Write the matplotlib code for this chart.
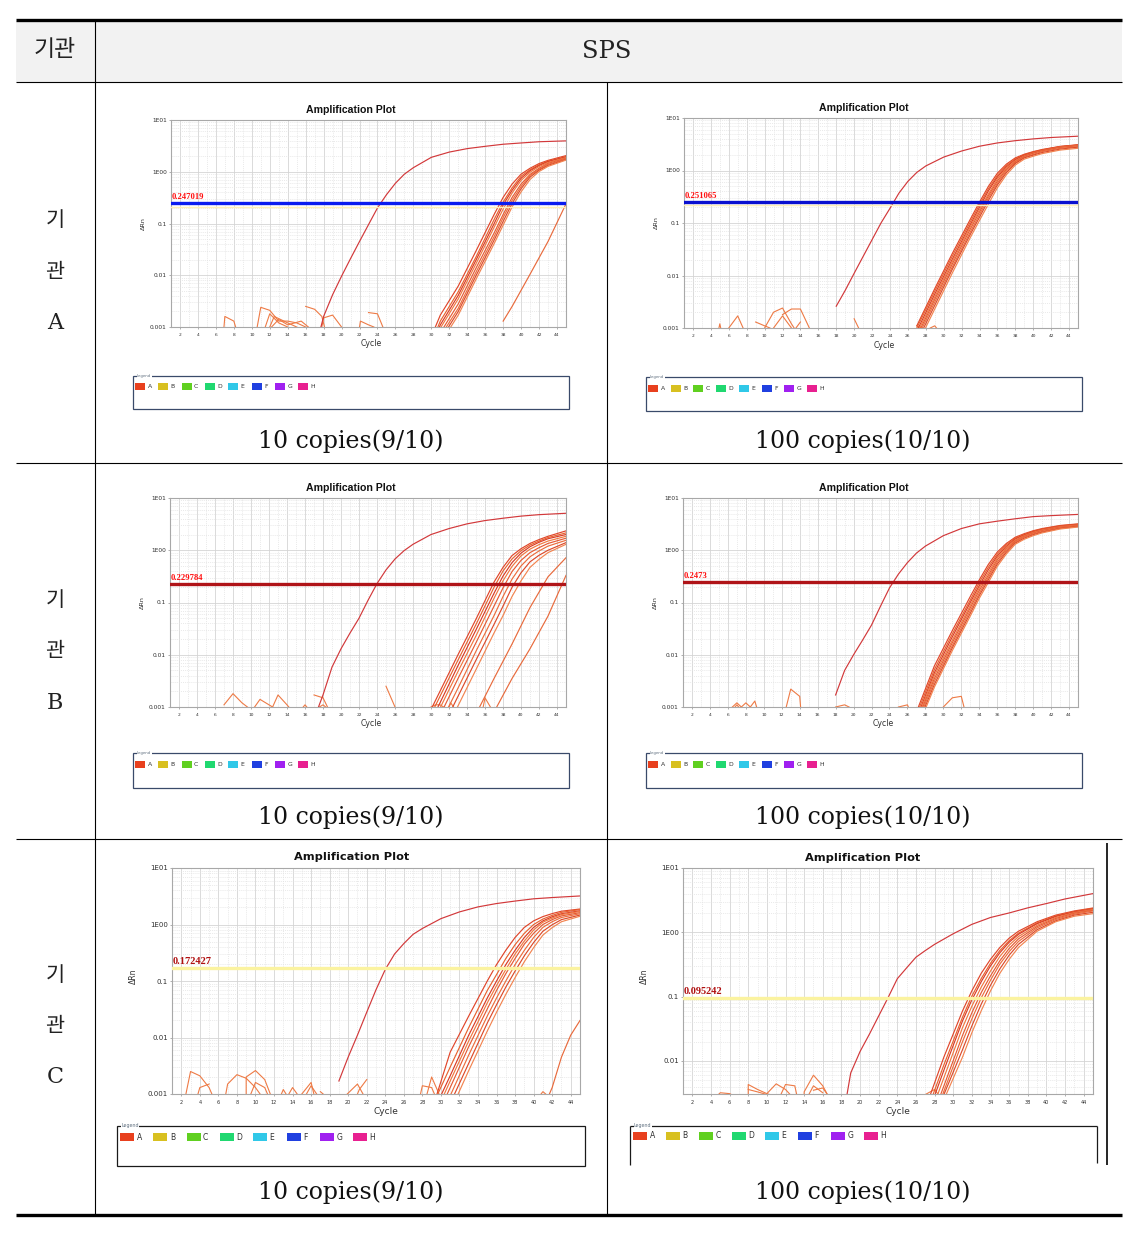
import matplotlib.pyplot as plt
from matplotlib.patches import Rectangle
from matplotlib.lines import Line2D
from matplotlib.ticker import FixedLocator, MultipleLocator, NullFormatter, LogLocator
import matplotlib.transforms as mtrans

# ---------------- data ----------------
X_TICKS = list(range(2, 45, 2))
WELLS = ['A', 'B', 'C', 'D', 'E', 'F', 'G', 'H']
WELL_COLORS = ['#e8401e', '#d8c020', '#60d020', '#20d870', '#30c8e8', '#2040e0', '#a020f0', '#e82090']

ROW_NAMES = ['A', 'B', 'C']
CAPTIONS = ['10 copies(9/10)', '100 copies(10/10)']
THRESHOLDS = [0.247019, 0.251065, 0.229784, 0.2473, 0.172427, 0.095242]
THRESHOLD_LABELS = ['0.247019', '0.251065', '0.229784', '0.2473', '0.172427', '0.095242']

# 기관 A, 10 copies
A_L_PC_X = [17.7, 18, 19, 20, 21, 22, 23, 24, 25, 26, 27, 28, 30, 32, 34, 36, 38, 40, 42, 45]
A_L_PC_Y = [0.001, 0.0016, 0.0042, 0.0096, 0.021, 0.045, 0.095, 0.2, 0.36, 0.6, 0.9, 1.2, 1.9, 2.4, 2.8, 3.1, 3.4, 3.6, 3.8, 3.95]
A_L_X = [29, 31, 33, 35, 37, 38, 39, 40, 41, 42, 43, 45]
A_L_Y = [
    [0.00025, 0.0017, 0.0062, 0.030, 0.15, 0.32, 0.58, 0.9, 1.17, 1.44, 1.66, 2.05],
    [0.00019, 0.0013, 0.0048, 0.023, 0.12, 0.26, 0.49, 0.82, 1.1, 1.37, 1.6, 1.96],
    [0.00016, 0.0011, 0.0041, 0.020, 0.10, 0.23, 0.44, 0.75, 1.05, 1.32, 1.57, 1.93],
    [0.00014, 0.00095, 0.0035, 0.017, 0.085, 0.19, 0.39, 0.68, 0.98, 1.26, 1.51, 1.88],
    [0.00011, 0.00077, 0.0028, 0.014, 0.066, 0.15, 0.32, 0.58, 0.89, 1.17, 1.45, 1.82],
    [0.0001, 0.00066, 0.0023, 0.0117, 0.056, 0.13, 0.28, 0.52, 0.85, 1.12, 1.39, 1.78],
    [0.00008, 0.00056, 0.002, 0.01, 0.048, 0.11, 0.245, 0.47, 0.79, 1.07, 1.33, 1.72],
    [0.00007, 0.00048, 0.0017, 0.0085, 0.041, 0.093, 0.21, 0.41, 0.71, 1.01, 1.27, 1.68],
]
A_L_LATE_X = [[38, 39, 41, 43, 45]]
A_L_LATE_Y = [[0.0013, 0.0025, 0.0105, 0.045, 0.24]]
A_L_NOISE = [
    ([6.9, 7, 8, 8.2], [0.001, 0.0016, 0.0013, 0.001]),
    ([10.6, 11, 12, 13, 14, 15, 16], [0.001, 0.0024, 0.0021, 0.0013, 0.0013, 0.0012, 0.001]),
    ([11.5, 12, 13, 14], [0.001, 0.0018, 0.0012, 0.001]),
    ([12, 12.5, 14, 15], [0.001, 0.0016, 0.0012, 0.001]),
    ([12.2, 13, 14, 15.5, 16.3], [0.001, 0.0014, 0.0011, 0.0013, 0.001]),
    ([16, 17, 17.8, 18.1], [0.0025, 0.0022, 0.0016, 0.001]),
    ([17.8, 18, 19, 20], [0.001, 0.0015, 0.0017, 0.001]),
    ([22, 22.1, 23, 23.6], [0.001, 0.0013, 0.0011, 0.001]),
    ([23, 24, 24.6], [0.0019, 0.0018, 0.001]),
]

# 기관 A, 100 copies
A_R_PC_X = [18, 19, 20, 21, 22, 23, 24, 25, 26, 27, 28, 30, 32, 34, 36, 38, 40, 42, 45]
A_R_PC_Y = [0.0026, 0.0052, 0.011, 0.023, 0.048, 0.1, 0.19, 0.37, 0.62, 0.92, 1.22, 1.8, 2.35, 2.9, 3.35, 3.7, 4.0, 4.25, 4.5]
A_R_X = [27, 29, 31, 33, 34, 35, 36, 37, 38, 39, 40, 41, 43, 45]
A_R_Y = [
    [0.0011, 0.0056, 0.027, 0.12, 0.25, 0.5, 0.89, 1.32, 1.74, 2.04, 2.29, 2.51, 2.88, 3.09],
    [0.001, 0.005, 0.024, 0.107, 0.224, 0.45, 0.81, 1.24, 1.67, 2.0, 2.25, 2.48, 2.85, 3.07],
    [0.00087, 0.0044, 0.021, 0.095, 0.2, 0.41, 0.75, 1.17, 1.6, 1.95, 2.21, 2.44, 2.82, 3.05],
    [0.00078, 0.0039, 0.019, 0.087, 0.18, 0.36, 0.69, 1.11, 1.53, 1.9, 2.17, 2.4, 2.79, 3.0],
    [0.00069, 0.0035, 0.017, 0.078, 0.162, 0.33, 0.63, 1.05, 1.47, 1.86, 2.13, 2.38, 2.75, 2.95],
    [0.00062, 0.0031, 0.015, 0.069, 0.145, 0.3, 0.575, 0.98, 1.41, 1.8, 2.03, 2.3, 2.65, 2.85],
    [0.00054, 0.0027, 0.0135, 0.062, 0.129, 0.27, 0.53, 0.91, 1.36, 1.74, 1.96, 2.2, 2.55, 2.78],
    [0.00046, 0.0023, 0.0115, 0.054, 0.112, 0.23, 0.47, 0.83, 1.27, 1.65, 1.87, 2.1, 2.45, 2.65],
]
A_R_NOISE = [
    ([4.9, 5, 5.1], [0.001, 0.0012, 0.001]),
    ([6, 7, 7.6], [0.001, 0.0017, 0.001]),
    ([9, 10, 10.6], [0.0013, 0.0011, 0.001]),
    ([10, 11, 12, 13, 13.3], [0.001, 0.002, 0.0024, 0.0012, 0.001]),
    ([11, 12, 13], [0.001, 0.0017, 0.001]),
    ([12, 13, 14, 15], [0.0018, 0.0023, 0.0023, 0.001]),
    ([13.5, 14], [0.001, 0.0013]),
    ([20, 20.5], [0.0015, 0.001]),
    ([27, 27.5], [0.0011, 0.001]),
    ([28.5, 29, 29.2], [0.001, 0.0011, 0.001]),
]

# 기관 B, 10 copies
B_L_PC_X = [17.5, 18, 19, 20, 21, 22, 23, 24, 25, 26, 27, 28, 30, 32, 34, 36, 38, 40, 42, 45]
B_L_PC_Y = [0.001, 0.0017, 0.0058, 0.013, 0.026, 0.05, 0.11, 0.23, 0.42, 0.68, 0.98, 1.3, 2.0, 2.6, 3.2, 3.7, 4.1, 4.5, 4.8, 5.1]
B_L_X = [29, 31, 33, 35, 37, 38, 39, 40, 41, 42, 43, 45]
B_L_Y = [
    [0.0004, 0.002, 0.01, 0.048, 0.245, 0.47, 0.79, 1.07, 1.35, 1.6, 1.85, 2.35],
    [0.00032, 0.0016, 0.0079, 0.038, 0.195, 0.4, 0.68, 0.98, 1.26, 1.5, 1.75, 2.15],
    [0.00025, 0.0012, 0.0062, 0.030, 0.15, 0.32, 0.58, 0.88, 1.17, 1.42, 1.66, 2.0],
    [0.00019, 0.00095, 0.0048, 0.023, 0.12, 0.26, 0.49, 0.78, 1.05, 1.28, 1.5, 1.85],
    [0.00014, 0.00069, 0.0035, 0.017, 0.085, 0.19, 0.39, 0.64, 0.9, 1.12, 1.35, 1.7],
    [0.0001, 0.00047, 0.0023, 0.0117, 0.056, 0.13, 0.28, 0.5, 0.75, 0.97, 1.2, 1.55],
    [0.00006, 0.00032, 0.0016, 0.0079, 0.038, 0.085, 0.195, 0.37, 0.6, 0.8, 1.0, 1.4],
    [0.00004, 0.00021, 0.00105, 0.0052, 0.026, 0.056, 0.13, 0.26, 0.47, 0.67, 0.9, 1.3],
]
B_L_LATE_X = [[35.4, 37, 39, 41, 43, 45], [37.3, 39, 41, 43, 45]]
B_L_LATE_Y = [[0.001, 0.0035, 0.016, 0.08, 0.31, 0.72], [0.001, 0.0035, 0.013, 0.055, 0.33]]
B_L_NOISE = [
    ([7, 8, 9, 9.6], [0.0011, 0.0018, 0.0012, 0.001]),
    ([10.4, 11, 12, 12.4], [0.001, 0.0014, 0.0011, 0.001]),
    ([12.4, 13, 14, 14.2], [0.001, 0.0017, 0.0011, 0.001]),
    ([15.8, 16, 16.2], [0.001, 0.0011, 0.001]),
    ([17, 18, 18.5], [0.0017, 0.0015, 0.001]),
    ([17.6, 18, 18.3], [0.001, 0.0011, 0.001]),
    ([25, 26], [0.0025, 0.001]),
    ([30, 30.5, 31, 31.4], [0.001, 0.0011, 0.0011, 0.001]),
    ([32, 32.2, 32.5], [0.001, 0.0012, 0.001]),
    ([35.8, 36, 36.6], [0.001, 0.0015, 0.001]),
]

# 기관 B, 100 copies
B_R_PC_X = [18, 19, 20, 21, 22, 23, 24, 25, 26, 27, 28, 30, 32, 34, 36, 38, 40, 42, 45]
B_R_PC_Y = [0.0017, 0.005, 0.01, 0.019, 0.037, 0.085, 0.19, 0.35, 0.58, 0.88, 1.2, 1.9, 2.6, 3.2, 3.6, 4.0, 4.4, 4.6, 4.85]
B_R_X = [27, 29, 31, 33, 34, 35, 36, 37, 38, 39, 40, 41, 43, 45]
B_R_Y = [
    [0.0008, 0.0061, 0.029, 0.13, 0.27, 0.53, 0.92, 1.34, 1.77, 2.07, 2.36, 2.6, 2.98, 3.2],
    [0.0007, 0.0052, 0.025, 0.112, 0.24, 0.47, 0.84, 1.26, 1.7, 2.0, 2.3, 2.55, 2.93, 3.15],
    [0.0006, 0.0045, 0.022, 0.1, 0.21, 0.42, 0.77, 1.18, 1.63, 1.95, 2.25, 2.5, 2.88, 3.1],
    [0.00055, 0.004, 0.019, 0.088, 0.19, 0.37, 0.71, 1.12, 1.57, 1.9, 2.2, 2.45, 2.83, 3.05],
    [0.0005, 0.0035, 0.017, 0.079, 0.17, 0.33, 0.65, 1.05, 1.5, 1.84, 2.13, 2.38, 2.77, 2.98],
    [0.00045, 0.0031, 0.015, 0.07, 0.15, 0.3, 0.59, 0.98, 1.44, 1.78, 2.06, 2.3, 2.7, 2.92],
    [0.0004, 0.0027, 0.0135, 0.062, 0.135, 0.27, 0.54, 0.91, 1.37, 1.7, 1.98, 2.22, 2.62, 2.85],
    [0.00035, 0.0024, 0.012, 0.055, 0.12, 0.24, 0.49, 0.84, 1.3, 1.62, 1.9, 2.15, 2.55, 2.78],
]
B_R_NOISE = [
    ([6.5, 7, 7.5], [0.001, 0.0012, 0.001]),
    ([6.8, 7, 7.2], [0.001, 0.0011, 0.001]),
    ([7.5, 8, 8.5, 9, 9.2], [0.001, 0.0012, 0.001, 0.0013, 0.001]),
    ([12.5, 13, 14, 14.1], [0.001, 0.0022, 0.0016, 0.001]),
    ([18, 19, 19.5], [0.001, 0.0011, 0.001]),
    ([25, 26, 26.1], [0.001, 0.0011, 0.001]),
    ([30, 31, 32, 32.3], [0.001, 0.0015, 0.0016, 0.001]),
]

# 기관 C, 10 copies
C_L_PC_X = [19, 20, 21, 22, 23, 24, 25, 26, 27, 28, 30, 32, 34, 36, 38, 40, 42, 45]
C_L_PC_Y = [0.0017, 0.0045, 0.011, 0.028, 0.07, 0.16, 0.3, 0.46, 0.67, 0.85, 1.27, 1.67, 2.05, 2.35, 2.6, 2.85, 3.0, 3.2]
C_L_X = [29, 31, 33, 35, 36, 37, 38, 39, 40, 41, 42, 43, 45]
C_L_Y = [
    [0.0005, 0.0055, 0.024, 0.10, 0.195, 0.35, 0.59, 0.89, 1.16, 1.38, 1.56, 1.72, 1.88],
    [0.00058, 0.003, 0.015, 0.068, 0.13, 0.25, 0.44, 0.70, 1.0, 1.25, 1.45, 1.64, 1.84],
    [0.00042, 0.0021, 0.011, 0.05, 0.1, 0.195, 0.35, 0.59, 0.89, 1.16, 1.37, 1.55, 1.75],
    [0.00032, 0.0017, 0.0087, 0.041, 0.083, 0.16, 0.3, 0.51, 0.8, 1.1, 1.3, 1.5, 1.7],
    [0.00025, 0.0013, 0.0069, 0.032, 0.068, 0.135, 0.25, 0.45, 0.7, 1.0, 1.22, 1.42, 1.62],
    [0.00018, 0.00093, 0.0049, 0.024, 0.05, 0.10, 0.195, 0.35, 0.59, 0.89, 1.12, 1.33, 1.55],
    [0.00013, 0.00068, 0.0035, 0.018, 0.038, 0.078, 0.15, 0.28, 0.48, 0.76, 0.99, 1.22, 1.47],
    [0.0001, 0.00049, 0.0026, 0.013, 0.028, 0.058, 0.115, 0.22, 0.39, 0.65, 0.88, 1.12, 1.4],
]
C_L_LATE_X = [[41.7, 42, 43, 44, 45]]
C_L_LATE_Y = [[0.001, 0.0013, 0.0045, 0.011, 0.02]]
C_L_NOISE = [
    ([2.5, 3, 4, 5, 5.3], [0.001, 0.0025, 0.0021, 0.0013, 0.001]),
    ([3.8, 4, 5], [0.001, 0.0013, 0.0015]),
    ([6.8, 7, 8, 9, 10, 10.5], [0.001, 0.0015, 0.0022, 0.0019, 0.0013, 0.001]),
    ([9, 9, 10, 11, 11.6], [0.001, 0.002, 0.0026, 0.0018, 0.001]),
    ([9.5, 10, 11, 11.3], [0.001, 0.0016, 0.0013, 0.001]),
    ([12.8, 13, 13.3], [0.001, 0.0012, 0.001]),
    ([13.6, 14, 14.5], [0.001, 0.0013, 0.001]),
    ([15, 16, 16.3], [0.001, 0.0016, 0.001]),
    ([15.5, 16, 16.6], [0.001, 0.0014, 0.001]),
    ([17, 17.3], [0.0011, 0.001]),
    ([19.9, 21, 21.6], [0.001, 0.0015, 0.001]),
    ([21, 21.2, 22], [0.001, 0.0012, 0.0018]),
    ([27.8, 28, 29, 29.3], [0.001, 0.0014, 0.0013, 0.001]),
    ([28.5, 29, 29.8], [0.001, 0.002, 0.001]),
    ([40.8, 41, 41.3], [0.001, 0.0011, 0.001]),
]

# 기관 C, 100 copies
C_R_PC_X = [18.6, 19, 20, 21, 22, 23, 24, 25, 26, 27, 28, 30, 32, 34, 36, 38, 40, 42, 45]
C_R_PC_Y = [0.003, 0.0065, 0.014, 0.026, 0.05, 0.096, 0.19, 0.28, 0.41, 0.52, 0.65, 0.95, 1.33, 1.7, 2.0, 2.4, 2.8, 3.3, 4.0]
C_R_X = [27, 29, 31, 32, 33, 34, 35, 36, 37, 39, 41, 43, 45]
C_R_Y = [
    [0.0018, 0.0115, 0.06, 0.123, 0.23, 0.38, 0.58, 0.81, 1.04, 1.46, 1.85, 2.15, 2.39],
    [0.0014, 0.0087, 0.048, 0.102, 0.19, 0.33, 0.52, 0.74, 0.97, 1.4, 1.8, 2.1, 2.35],
    [0.00115, 0.0072, 0.042, 0.089, 0.17, 0.3, 0.48, 0.7, 0.93, 1.36, 1.76, 2.07, 2.3],
    [0.0009, 0.0055, 0.033, 0.071, 0.14, 0.25, 0.42, 0.63, 0.86, 1.29, 1.7, 2.03, 2.26],
    [0.00068, 0.0041, 0.025, 0.056, 0.115, 0.21, 0.36, 0.56, 0.79, 1.23, 1.64, 1.98, 2.2],
    [0.00052, 0.0034, 0.02, 0.045, 0.095, 0.18, 0.32, 0.5, 0.72, 1.17, 1.58, 1.92, 2.15],
    [0.0004, 0.003, 0.015, 0.035, 0.076, 0.15, 0.27, 0.44, 0.65, 1.1, 1.51, 1.85, 2.05],
    [0.00032, 0.0025, 0.0115, 0.0275, 0.06, 0.123, 0.23, 0.38, 0.58, 1.04, 1.46, 1.78, 1.95],
]
C_R_NOISE = [
    ([4.8, 5, 6, 6.2], [0.003, 0.0032, 0.0031, 0.003]),
    ([8, 8, 9, 10, 10.3], [0.003, 0.0043, 0.0036, 0.0031, 0.003]),
    ([8, 9, 10], [0.0036, 0.0033, 0.003]),
    ([10, 11, 12, 12.5], [0.0031, 0.0044, 0.0036, 0.003]),
    ([11.5, 12, 13, 13.2], [0.003, 0.0043, 0.0041, 0.003]),
    ([14, 14, 15, 16, 16.5], [0.003, 0.0033, 0.006, 0.0041, 0.003]),
    ([15, 16, 16.5], [0.0035, 0.0038, 0.003]),
    ([14.5, 15, 16], [0.003, 0.0041, 0.0032]),
    ([27, 28, 28.4], [0.003, 0.0036, 0.003]),
]

# ---------------- layout ----------------
W, H = 1140, 1246
fig = plt.figure(figsize=(W / 100, H / 100), dpi=100)
fig.patch.set_facecolor('white')

CURVE_COLORS = ['#e0452a', '#e8622e', '#d93b26', '#f07840', '#e55a34', '#ec6d3c', '#dc4a2a', '#f28450']
PC_COLOR = '#d2383a'
NOISE_COLOR = '#ee7a45'
KR = ['Noto Sans CJK KR', 'DejaVu Sans']


def fline(x0, y0, x1, y1, lw=0.8, color='black'):
    fig.add_artist(Line2D([x0 / W, x1 / W], [1 - y0 / H, 1 - y1 / H], lw=lw, color=color,
                          solid_capstyle='butt'))


def frect(x0, y0, x1, y1, **kw):
    fig.add_artist(Rectangle((x0 / W, 1 - y1 / H), (x1 - x0) / W, (y1 - y0) / H,
                             transform=fig.transFigure, **kw))


def ftext(x, y, s, **kw):
    kw.setdefault('ha', 'center')
    kw.setdefault('va', 'center')
    fig.text(x / W, 1 - y / H, s, **kw)


# table
frect(16, 21, 1122, 82, facecolor='#f2f2f2', edgecolor='none')
fline(16, 20, 1122, 20, lw=2.4)
fline(16, 82, 1122, 82)
fline(16, 463, 1122, 463)
fline(16, 839, 1122, 839)
fline(16, 1215, 1122, 1215, lw=2.4)
fline(95, 20, 95, 1215)
fline(607, 82, 607, 1215)
fline(1107, 843, 1107, 1165, lw=1.2)

ftext(55, 50, '기관', family=KR, fontsize=16.5, color='#222222')
ftext(607, 51, 'SPS', family='DejaVu Serif', fontsize=17.5, color='#222222')

ROW_Y = [(220, 272, 323), (600, 651, 703), (975, 1026, 1077)]
for name, (y1, y2, y3) in zip(ROW_NAMES, ROW_Y):
    ftext(55, y1, '기', family=KR, fontsize=15, color='#222222')
    ftext(55, y2, '관', family=KR, fontsize=15, color='#222222')
    ftext(55, y3, name, family='DejaVu Serif', fontsize=16, color='#222222')

CAPTION_Y = [441, 817, 1192]
for cy in CAPTION_Y:
    ftext(351, cy, CAPTIONS[0], family='DejaVu Serif', fontsize=17, color='#111111')
    ftext(863, cy, CAPTIONS[1], family='DejaVu Serif', fontsize=17, color='#111111')

PANELS = [
    dict(box=(171, 120, 566, 327), title=(351, 110), leg=(133, 376, 569, 409), leg_item=(135, 386, 23.3, 10, 7),
         pc=(A_L_PC_X, A_L_PC_Y), gx=A_L_X, gy=A_L_Y, late=(A_L_LATE_X, A_L_LATE_Y), noise=A_L_NOISE,
         thr_color='#0a1cf0', lab_color='#ff1010', ymin=0.001, big=False, ghost=True),
    dict(box=(684, 118, 1078, 328), title=(864, 108), leg=(646, 377, 1082, 411), leg_item=(648, 388, 22.7, 10, 7),
         pc=(A_R_PC_X, A_R_PC_Y), gx=A_R_X, gy=A_R_Y, late=([], []), noise=A_R_NOISE,
         thr_color='#0a10d0', lab_color='#ff1010', ymin=0.001, big=False, ghost=True),
    dict(box=(170, 498, 566, 707), title=(351, 488), leg=(133, 753, 569, 788), leg_item=(135, 764, 23.3, 10, 7),
         pc=(B_L_PC_X, B_L_PC_Y), gx=B_L_X, gy=B_L_Y, late=(B_L_LATE_X, B_L_LATE_Y), noise=B_L_NOISE,
         thr_color='#b01418', lab_color='#ff1010', ymin=0.001, big=False, ghost=False),
    dict(box=(683, 498, 1078, 707), title=(864, 488), leg=(646, 753, 1082, 788), leg_item=(648, 764, 22.7, 10, 7),
         pc=(B_R_PC_X, B_R_PC_Y), gx=B_R_X, gy=B_R_Y, late=([], []), noise=B_R_NOISE,
         thr_color='#b01418', lab_color='#ff1010', ymin=0.001, big=False, ghost=False),
    dict(box=(172, 868, 580, 1094), title=(352, 857), leg=(117, 1126, 585, 1166), leg_item=(120, 1137, 33.3, 14, 8),
         pc=(C_L_PC_X, C_L_PC_Y), gx=C_L_X, gy=C_L_Y, late=(C_L_LATE_X, C_L_LATE_Y), noise=C_L_NOISE,
         thr_color='#fbf3a0', lab_color='#b01010', ymin=0.001, big=True, ghost=False),
    dict(box=(683, 868, 1093, 1094), title=(863, 858), leg=(630, 1126, 1097, None), leg_item=(633, 1136, 33, 14, 8),
         pc=(C_R_PC_X, C_R_PC_Y), gx=C_R_X, gy=C_R_Y, late=([], []), noise=C_R_NOISE,
         thr_color='#fbf3a0', lab_color='#b01010', ymin=0.00306, big=True, ghost=False),
]

for i, p in enumerate(PANELS):
    l, t, r, b = p['box']
    big = p['big']
    ax = fig.add_axes([l / W, 1 - b / H, (r - l) / W, (b - t) / H])
    ax.set_yscale('log')
    ax.set_xlim(1, 45)
    ax.set_ylim(p['ymin'], 10)

    ax.xaxis.set_major_locator(FixedLocator(X_TICKS))
    ax.xaxis.set_minor_locator(MultipleLocator(1))
    ax.set_xticklabels([str(v) for v in X_TICKS])
    if p['ymin'] < 0.002:
        yt = [0.001, 0.01, 0.1, 1, 10]
        yl = ['0.001', '0.01', '0.1', '1E00', '1E01']
    else:
        yt = [0.01, 0.1, 1, 10]
        yl = ['0.01', '0.1', '1E00', '1E01']
    ax.yaxis.set_major_locator(FixedLocator(yt))
    ax.set_yticklabels(yl)
    ax.yaxis.set_minor_locator(LogLocator(base=10, subs=range(2, 10), numticks=20))
    ax.yaxis.set_minor_formatter(NullFormatter())

    ax.grid(True, which='major', color='#d4d4d4', lw=0.6)
    ax.grid(True, which='minor', color='#e2e2e2', lw=0.5, ls=(0, (1.5, 1.5)))
    ax.set_axisbelow(True)
    for s in ax.spines.values():
        s.set_color('#a8a8a8')
        s.set_linewidth(0.8)
    ax.tick_params(axis='x', which='major', labelsize=3.6 if big else 3.2, length=1.5, width=0.5,
                   colors='#909090', labelcolor='#303030', pad=2.5)
    ax.tick_params(axis='y', which='major', labelsize=5 if big else 4.2, length=1.5, width=0.5,
                   colors='#909090', labelcolor='#303030', pad=1.5)
    ax.tick_params(which='minor', length=0)

    # noise near the baseline
    for nx, ny in p['noise']:
        ax.plot(nx, ny, color=NOISE_COLOR, lw=0.8)
    # sample wells
    for k, ys in enumerate(p['gy']):
        ax.plot(p['gx'], ys, color=CURVE_COLORS[k % len(CURVE_COLORS)], lw=0.85)
    lx, ly = p['late']
    for k in range(len(lx)):
        ax.plot(lx[k], ly[k], color='#e86a3c', lw=0.85)
    # positive control
    ax.plot(p['pc'][0], p['pc'][1], color=PC_COLOR, lw=0.85)

    thr = THRESHOLDS[i]
    if p['ghost']:
        ax.axhline(thr * 0.86, color='#fff0b8', lw=1.0, zorder=4)
    ax.axhline(thr, color=p['thr_color'], lw=2.4, zorder=5)
    trans = mtrans.blended_transform_factory(ax.transAxes, ax.transData)
    ax.text(0.002, thr * 1.08, THRESHOLD_LABELS[i], transform=trans, ha='left', va='bottom',
            family='Liberation Serif', weight='bold', fontsize=7.5 if big else 6.2,
            color=p['lab_color'], zorder=6)

    # titles and axis labels
    tx, ty = p['title']
    if big:
        ftext(tx, ty, 'Amplification Plot', family='DejaVu Sans', weight='bold', fontsize=8.2, color='#111111')
        ftext(l - 39, (t + b) / 2 - 5, 'ΔRn', rotation=90, fontsize=5.5, color='#303030')
        ftext((l + r) / 2 + 10, b + 18, 'Cycle', fontsize=6.5, color='#303030')
    else:
        ftext(tx, ty, 'Amplification Plot', family='Liberation Sans', weight='bold', fontsize=7.6, color='#111111')
        ftext(l - 28, (t + b) / 2, 'ΔRn', rotation=90, fontsize=4.6, color='#303030')
        ftext((l + r) / 2 + 3, b + 17, 'Cycle', fontsize=5.6, color='#303030')

    # legend box
    bl, bt, br, bb = p['leg']
    border = '#1a1a1a' if big else '#3a4a6a'
    if bb is None:
        fline(bl, bt, br, bt, lw=0.9, color=border)
        fline(bl, bt, bl, 1165, lw=0.9, color=border)
        fline(br, bt, br, 1163, lw=0.9, color=border)
    else:
        frect(bl, bt, br, bb, facecolor='none', edgecolor=border, lw=0.9)
    ftext(bl + 4, bt, 'Legend', ha='left', fontsize=3.4 if big else 2.8, color='#607080',
          bbox=dict(facecolor='white', edgecolor='none', pad=0.3))
    ix, iy, pitch, pw, ph = p['leg_item']
    for k, (w, c) in enumerate(zip(WELLS, WELL_COLORS)):
        x0 = ix + k * pitch
        frect(x0, iy - ph / 2, x0 + pw, iy + ph / 2, facecolor=c, edgecolor='none')
        ftext(x0 + pw + 2.5, iy, w, ha='left', fontsize=5.5 if big else 4.4, color='#303030')

plt.savefig('out.png', dpi=100)
